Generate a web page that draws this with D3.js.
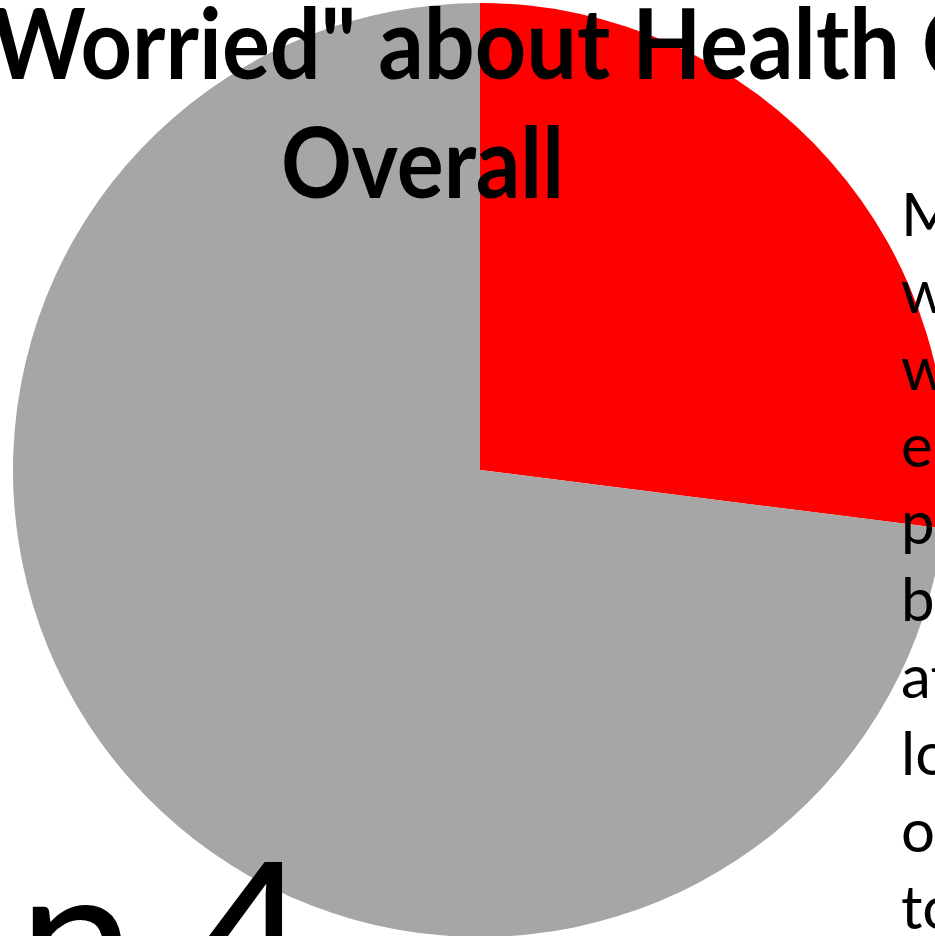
<!DOCTYPE html>
<html>
<head>
<meta charset="utf-8">
<script src="https://cdn.jsdelivr.net/npm/d3@7"></script>
<style>
  html, body { margin: 0; padding: 0; background: #fff; overflow: hidden; }
  svg { display: block; }
</style>
</head>
<body>
<svg id="chart" width="935" height="936"></svg>
<script>
// ---- data ----
const categories = ["Worried", "Not worried"];
const values = [27, 73];
const colors = ["#FF0000", "#A6A6A6"];
const titleLines = ["\"Worried\" about Health Care", "Overall"];
const noteLines = ["Many", "workers", "were", "especially", "people", "being", "at", "low", "of", "to"];
const bigLabel = "n 4";

const W = 935, H = 936;
const svg = d3.select("#chart");

const cx = 480, cy = 470, R = 467;
const pie = d3.pie().sort(null).value(d => d.v);
const arc = d3.arc().innerRadius(0).outerRadius(R);
const data = categories.map((c, i) => ({ c, v: values[i], col: colors[i] }));

svg.append("g")
  .attr("transform", `translate(${cx},${cy})`)
  .selectAll("path")
  .data(pie(data))
  .join("path")
  .attr("d", arc)
  .attr("fill", d => d.data.col);

// title
const title = svg.append("g")
  .attr("font-family", "Lato, 'Open Sans', sans-serif")
  .attr("font-weight", 700)
  .attr("font-size", 97)
  .attr("fill", "#000");
title.append("text")
  .attr("x", -44).attr("y", 79)
  .attr("textLength", 1151).attr("lengthAdjust", "spacingAndGlyphs")
  .text(titleLines[0]);
title.append("text")
  .attr("x", 281).attr("y", 198)
  .attr("textLength", 283).attr("lengthAdjust", "spacingAndGlyphs")
  .text(titleLines[1]);

// side note paragraph
const note = svg.append("g")
  .attr("font-family", "Lato, 'Open Sans', sans-serif")
  .attr("font-size", 60)
  .attr("fill", "#000");
note.selectAll("text")
  .data(noteLines)
  .join("text")
  .attr("x", 901)
  .attr("y", (d, i) => 236 + i * 77)
  .text(d => d);

// large clipped label at bottom-left
svg.append("text")
  .attr("font-family", "Lato, 'Open Sans', sans-serif")
  .attr("font-size", 210)
  .attr("fill", "#000")
  .attr("x", 18)
  .attr("y", 1013)
  .text(bigLabel);
</script>
</body>
</html>
